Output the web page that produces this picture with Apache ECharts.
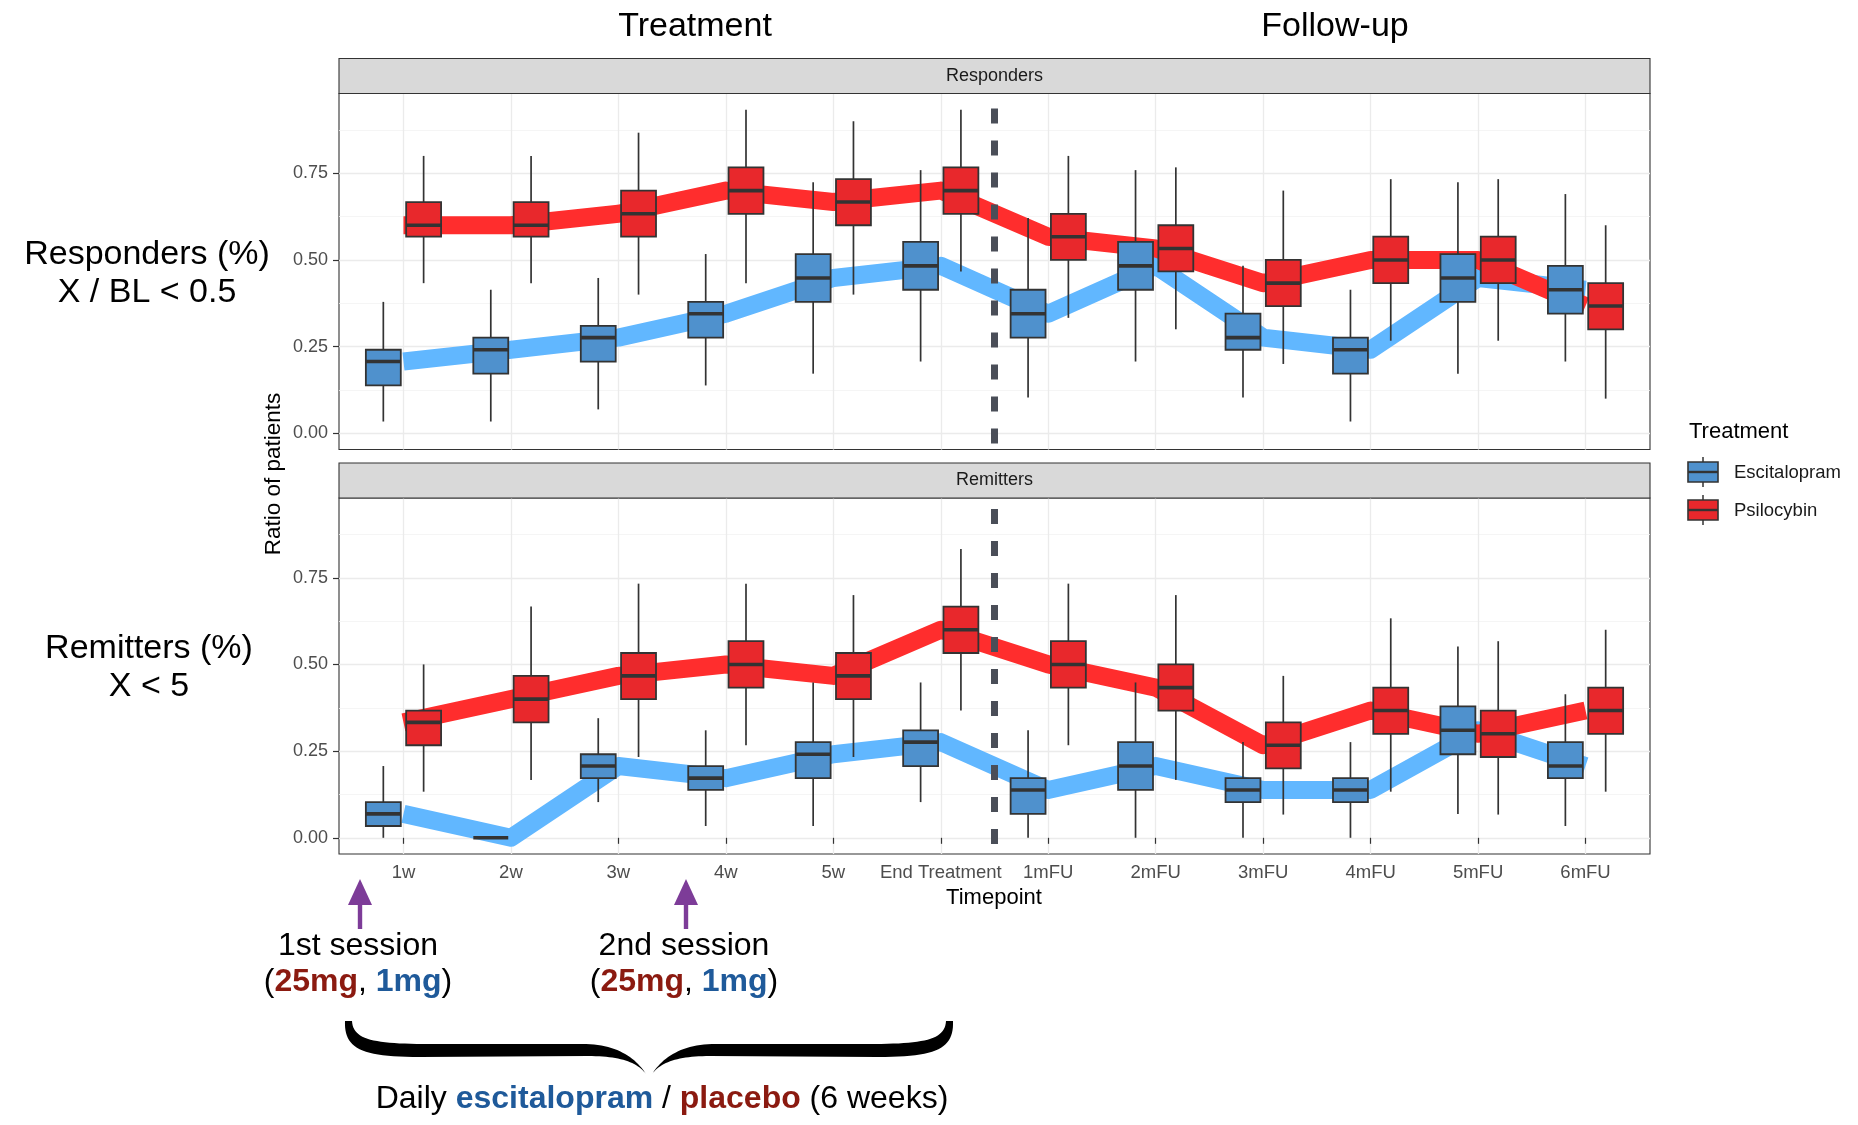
<!DOCTYPE html>
<html>
<head>
<meta charset="utf-8">
<script src="https://cdn.jsdelivr.net/npm/echarts@6.0.0/dist/echarts.min.js"></script>
<style>
  html, body { margin: 0; padding: 0; background: #ffffff; }
  #chart { width: 1858px; height: 1125px; }
</style>
</head>
<body>
<div id="chart"></div>
<script>
// ---- data ----------------------------------------------------------------
const timepoints = ['1w', '2w', '3w', '4w', '5w', 'End Treatment',
                    '1mFU', '2mFU', '3mFU', '4mFU', '5mFU', '6mFU'];
const yTickValues = [0, 0.25, 0.5, 0.75];
const yMinorValues = [0.125, 0.375, 0.625, 0.875];
const groups = ['Escitalopram', 'Psilocybin'];

// each row: [lower whisker, Q1, median, Q3, upper whisker]
const respEscitalopram = [
  [0.034, 0.138, 0.207, 0.241, 0.379],
  [0.034, 0.172, 0.241, 0.276, 0.414],
  [0.069, 0.207, 0.276, 0.310, 0.448],
  [0.138, 0.276, 0.345, 0.379, 0.517],
  [0.172, 0.379, 0.448, 0.517, 0.724],
  [0.207, 0.414, 0.483, 0.552, 0.759],
  [0.103, 0.276, 0.345, 0.414, 0.621],
  [0.207, 0.414, 0.483, 0.552, 0.759],
  [0.103, 0.241, 0.276, 0.345, 0.483],
  [0.034, 0.172, 0.241, 0.276, 0.414],
  [0.172, 0.379, 0.448, 0.517, 0.724],
  [0.207, 0.345, 0.414, 0.483, 0.690]
];
const respPsilocybin = [
  [0.433, 0.567, 0.600, 0.667, 0.800],
  [0.433, 0.567, 0.600, 0.667, 0.800],
  [0.400, 0.567, 0.633, 0.700, 0.867],
  [0.433, 0.633, 0.700, 0.767, 0.933],
  [0.400, 0.600, 0.667, 0.733, 0.900],
  [0.467, 0.633, 0.700, 0.767, 0.933],
  [0.333, 0.500, 0.567, 0.633, 0.800],
  [0.300, 0.467, 0.533, 0.600, 0.767],
  [0.200, 0.367, 0.433, 0.500, 0.700],
  [0.267, 0.433, 0.500, 0.567, 0.733],
  [0.267, 0.433, 0.500, 0.567, 0.733],
  [0.100, 0.300, 0.367, 0.433, 0.600]
];
const remitEscitalopram = [
  [0.000, 0.034, 0.069, 0.103, 0.207],
  [0.000, 0.000, 0.000, 0.000, 0.000],
  [0.103, 0.172, 0.207, 0.241, 0.345],
  [0.034, 0.138, 0.172, 0.207, 0.310],
  [0.034, 0.172, 0.241, 0.276, 0.448],
  [0.103, 0.207, 0.276, 0.310, 0.448],
  [0.000, 0.069, 0.138, 0.172, 0.310],
  [0.000, 0.138, 0.207, 0.276, 0.448],
  [0.000, 0.103, 0.138, 0.172, 0.276],
  [0.000, 0.103, 0.138, 0.172, 0.276],
  [0.069, 0.241, 0.310, 0.379, 0.552],
  [0.034, 0.172, 0.207, 0.276, 0.414]
];
const remitPsilocybin = [
  [0.133, 0.267, 0.333, 0.367, 0.500],
  [0.167, 0.333, 0.400, 0.467, 0.667],
  [0.233, 0.400, 0.467, 0.533, 0.733],
  [0.267, 0.433, 0.500, 0.567, 0.733],
  [0.233, 0.400, 0.467, 0.533, 0.700],
  [0.367, 0.533, 0.600, 0.667, 0.833],
  [0.267, 0.433, 0.500, 0.567, 0.733],
  [0.167, 0.367, 0.433, 0.500, 0.700],
  [0.067, 0.200, 0.267, 0.333, 0.467],
  [0.133, 0.300, 0.367, 0.433, 0.633],
  [0.067, 0.233, 0.300, 0.367, 0.567],
  [0.133, 0.300, 0.367, 0.433, 0.600]
];

// ---- styling / layout ----------------------------------------------------
const FONT = '"Liberation Sans", Arial, Helvetica, sans-serif';
const BLUE_FILL = '#4f91cd', RED_FILL = '#e8282c';
const BLUE_LINE = '#61b7ff', RED_LINE = '#ff2d2d';
const DARK = '#333333';
const Y_MIN = -0.0467, Y_MAX = 0.98;
const X_MIN = -0.6, X_MAX = timepoints.length - 1 + 0.6;
const DODGE = 0.1875, BOX_W = 0.325;
const PANEL_LEFT = 339, PANEL_W = 1311;
const PANELS = [
  { top: 93.5, height: 356, strip: 'Responders', esc: respEscitalopram, psi: respPsilocybin, dashOffset: 26 },
  { top: 498, height: 356, strip: 'Remitters', esc: remitEscitalopram, psi: remitPsilocybin, dashOffset: 22 }
];
const STRIP_H = 35;

function boxRows(stats, shift) {
  return stats.map((s, i) => [i + shift, s[0], s[1], s[2], s[3], s[4]]);
}
function medianLine(stats) {
  return stats.map((s, i) => [i, s[2]]);
}

function renderBox(params, api) {
  const x = api.value(0);
  const lo = api.coord([x, api.value(1)]);
  const q1 = api.coord([x, api.value(2)]);
  const md = api.coord([x, api.value(3)]);
  const q3 = api.coord([x, api.value(4)]);
  const hi = api.coord([x, api.value(5)]);
  const w = api.size([BOX_W, 0])[0];
  const cx = md[0];
  const fill = api.visual('color');
  const children = [
    { type: 'line', shape: { x1: cx, y1: lo[1], x2: cx, y2: q1[1] }, style: { stroke: DARK, lineWidth: 1.7 } },
    { type: 'line', shape: { x1: cx, y1: q3[1], x2: cx, y2: hi[1] }, style: { stroke: DARK, lineWidth: 1.7 } }
  ];
  if (q1[1] - q3[1] > 0.5) {
    children.push({ type: 'rect', shape: { x: cx - w / 2, y: q3[1], width: w, height: q1[1] - q3[1] },
                    style: { fill: fill, stroke: DARK, lineWidth: 1.8 } });
  }
  children.push({ type: 'line', shape: { x1: cx - w / 2, y1: md[1], x2: cx + w / 2, y2: md[1] },
                  style: { stroke: DARK, lineWidth: 3.6 } });
  return { type: 'group', children: children };
}

const grids = [], xAxes = [], yAxes = [], series = [], graphics = [];

PANELS.forEach((p, gi) => {
  grids.push({ left: PANEL_LEFT, top: p.top, width: PANEL_W, height: p.height,
               show: true, borderColor: DARK, borderWidth: 1.1, backgroundColor: 'transparent' });
  const isBottom = gi === PANELS.length - 1;
  xAxes.push({
    type: 'value', gridIndex: gi, min: X_MIN, max: X_MAX, position: 'bottom',
    axisLine: { show: false },
    axisTick: { show: isBottom, length: 6, lineStyle: { color: DARK, width: 1.2 },
                customValues: timepoints.map((t, i) => i) },
    axisLabel: { show: isBottom, customValues: timepoints.map((t, i) => i),
                 formatter: v => timepoints[Math.round(v)], color: '#4d4d4d',
                 fontSize: 18.5, fontFamily: FONT, margin: 9 },
    splitLine: { show: true, lineStyle: { color: '#ebebeb', width: 1.3 } }
  });
  // minor horizontal grid
  yAxes.push({
    type: 'value', gridIndex: gi, min: Y_MIN, max: Y_MAX, position: 'left',
    axisLine: { show: false }, axisLabel: { show: false },
    axisTick: { show: false, customValues: yMinorValues },
    splitLine: { show: true, lineStyle: { color: '#f3f3f3', width: 0.8 } }
  });
  // major horizontal grid with labels
  yAxes.push({
    type: 'value', gridIndex: gi, min: Y_MIN, max: Y_MAX, position: 'left', offset: 0,
    axisLine: { show: false },
    axisTick: { show: true, length: 6, lineStyle: { color: DARK, width: 1.2 }, customValues: yTickValues },
    axisLabel: { customValues: yTickValues, formatter: v => v.toFixed(2), color: '#4d4d4d',
                 fontSize: 18, fontFamily: FONT, margin: 11 },
    splitLine: { show: true, lineStyle: { color: '#ebebeb', width: 1.3 } }
  });
  const yIdx = gi * 2 + 1;

  series.push({
    type: 'line', name: groups[0], xAxisIndex: gi, yAxisIndex: yIdx, z: 2,
    data: medianLine(p.esc), symbol: 'none', silent: true,
    lineStyle: { color: BLUE_LINE, width: 18, join: 'round', cap: 'butt' }
  });
  series.push({
    type: 'line', name: groups[1], xAxisIndex: gi, yAxisIndex: yIdx, z: 3,
    data: medianLine(p.psi), symbol: 'none', silent: true,
    lineStyle: { color: RED_LINE, width: 18, join: 'round', cap: 'butt' },
    markLine: {
      silent: true, symbol: ['none', 'none'], label: { show: false }, z: 4,
      lineStyle: { color: '#4a4e58', width: 7, type: [15, 17], dashOffset: p.dashOffset },
      data: [[{ coord: [5.5, Y_MIN] }, { coord: [5.5, Y_MAX] }]]
    }
  });
  series.push({
    type: 'custom', name: groups[0], xAxisIndex: gi, yAxisIndex: yIdx, z: 5,
    itemStyle: { color: BLUE_FILL }, renderItem: renderBox,
    encode: { x: 0, y: [1, 2, 3, 4, 5] }, data: boxRows(p.esc, -DODGE)
  });
  series.push({
    type: 'custom', name: groups[1], xAxisIndex: gi, yAxisIndex: yIdx, z: 5,
    itemStyle: { color: RED_FILL }, renderItem: renderBox,
    encode: { x: 0, y: [1, 2, 3, 4, 5] }, data: boxRows(p.psi, DODGE)
  });

  // facet strip
  graphics.push({
    type: 'rect', shape: { x: PANEL_LEFT, y: p.top - STRIP_H, width: PANEL_W, height: STRIP_H },
    style: { fill: '#d9d9d9', stroke: DARK, lineWidth: 1.1 }, z: 10
  });
  graphics.push({
    type: 'text', x: PANEL_LEFT + PANEL_W / 2, y: p.top - STRIP_H / 2, z: 11,
    style: { text: p.strip, align: 'center', verticalAlign: 'middle', fill: '#1a1a1a',
             fontSize: 18, fontFamily: FONT }
  });
});

function txt(x, y, text, size, extra) {
  return {
    type: 'text', x: x, y: y, z: 12,
    style: Object.assign({ text: text, align: 'center', verticalAlign: 'middle', fill: '#000',
                           fontSize: size, fontFamily: FONT }, extra || {})
  };
}

// headings and side labels
graphics.push(txt(695, 27, 'Treatment', 34));
graphics.push(txt(1335, 27, 'Follow-up', 34));
graphics.push(txt(147, 255, 'Responders (%)', 34));
graphics.push(txt(147, 293, 'X / BL < 0.5', 34));
graphics.push(txt(149, 649, 'Remitters (%)', 34));
graphics.push(txt(149, 687, 'X < 5', 34));

// axis titles
const yTitle = txt(274, 474, 'Ratio of patients', 22.5);
yTitle.rotation = Math.PI / 2;
graphics.push(yTitle);
graphics.push(txt(994, 898, 'Timepoint', 22));

// legend
graphics.push(txt(1689, 432, 'Treatment', 22, { align: 'left' }));
[[BLUE_FILL, 472, groups[0]], [RED_FILL, 510, groups[1]]].forEach(k => {
  const [fill, cy, label] = k;
  graphics.push({ type: 'line', z: 12, shape: { x1: 1703, y1: cy - 15, x2: 1703, y2: cy + 15 },
                  style: { stroke: DARK, lineWidth: 1.5 } });
  graphics.push({ type: 'rect', z: 13, shape: { x: 1688, y: cy - 10, width: 30, height: 20 },
                  style: { fill: fill, stroke: DARK, lineWidth: 1.6 } });
  graphics.push({ type: 'line', z: 14, shape: { x1: 1688, y1: cy, x2: 1718, y2: cy },
                  style: { stroke: DARK, lineWidth: 2.4 } });
  graphics.push(txt(1734, cy + 1, label, 18.5, { align: 'left', fill: '#1a1a1a' }));
});

// dosing session annotations
const PURPLE = '#7d3c98', DOSE_RED = '#8b1a10', DOSE_BLUE = '#1f5a9a';
const richDose = {
  r: { fill: DOSE_RED, fontWeight: 'bold', fontSize: 32, fontFamily: FONT },
  b: { fill: DOSE_BLUE, fontWeight: 'bold', fontSize: 32, fontFamily: FONT }
};
[[360, '1st session'], [686, '2nd session']].forEach(a => {
  const [ax, label] = a;
  graphics.push({ type: 'polygon', z: 12, shape: { points: [[ax, 879], [ax - 12, 905], [ax + 12, 905]] },
                  style: { fill: PURPLE } });
  graphics.push({ type: 'rect', z: 12, shape: { x: ax - 2.2, y: 903, width: 4.4, height: 26 },
                  style: { fill: PURPLE } });
  graphics.push(txt(ax - 2, 946, label, 32));
  graphics.push(txt(ax - 2, 982, '({r|25mg}, {b|1mg})', 32, { rich: richDose }));
});

// curly brace under the treatment weeks: outline built from cubic segments
const braceSegments = [
  // start point, then [c1x, c1y, c2x, c2y, x, y] per segment ('L' = straight)
  [345, 1021],
  [344, 1048, 360, 1057, 420, 1057],
  ['L', 588, 1056],
  [620, 1056, 637, 1062, 646, 1074],
  [635, 1057, 616, 1044, 582, 1044],
  ['L', 430, 1044],
  [374, 1044, 353, 1040, 352, 1021]
];
function braceOutline(mirror) {
  const mx = x => mirror ? 1298 - x : x;
  let [px, py] = braceSegments[0];
  const pts = [[mx(px), py]];
  for (let s = 1; s < braceSegments.length; s++) {
    const seg = braceSegments[s];
    if (seg[0] === 'L') {
      px = seg[1]; py = seg[2];
      pts.push([mx(px), py]);
      continue;
    }
    const [c1x, c1y, c2x, c2y, x, y] = seg;
    for (let k = 1; k <= 24; k++) {
      const t = k / 24, u = 1 - t;
      const bx = u * u * u * px + 3 * u * u * t * c1x + 3 * u * t * t * c2x + t * t * t * x;
      const by = u * u * u * py + 3 * u * u * t * c1y + 3 * u * t * t * c2y + t * t * t * y;
      pts.push([mx(bx), by]);
    }
    px = x; py = y;
  }
  return pts;
}
graphics.push({ type: 'polygon', z: 12, shape: { points: braceOutline(false) }, style: { fill: '#000' } });
graphics.push({ type: 'polygon', z: 12, shape: { points: braceOutline(true) }, style: { fill: '#000' } });
graphics.push(txt(662, 1099, 'Daily {b|escitalopram} / {r|placebo} (6 weeks)', 32, { rich: richDose }));

const chart = echarts.init(document.getElementById('chart'), null, { renderer: 'canvas' });
chart.setOption({
  animation: false,
  backgroundColor: '#ffffff',
  grid: grids,
  xAxis: xAxes,
  yAxis: yAxes,
  series: series,
  graphic: { elements: graphics }
});
</script>
</body>
</html>
